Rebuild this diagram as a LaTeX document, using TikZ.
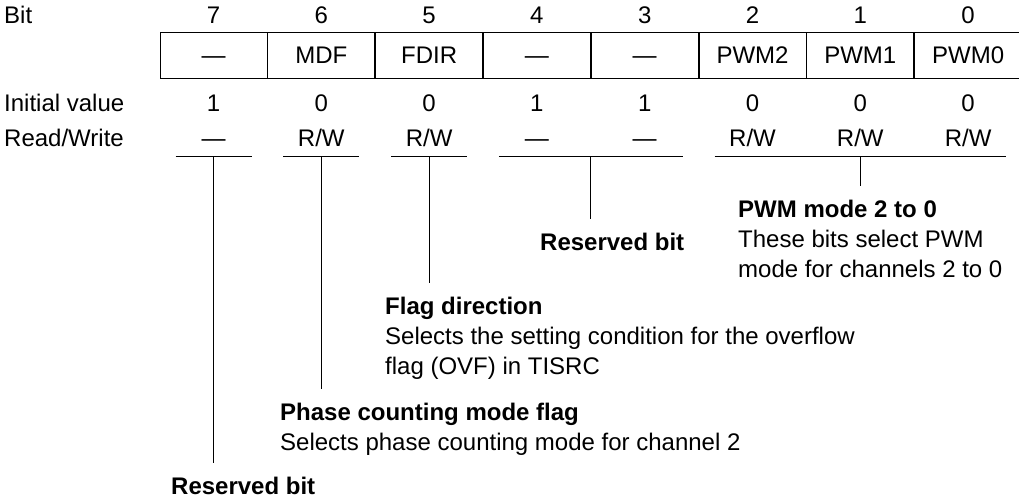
\documentclass[tikz,border=0pt]{standalone}
\usepackage{fontspec}
\setmainfont{Liberation Sans}
\usetikzlibrary{positioning}
\tikzset{
  cell/.style={
    rectangle,
    draw,
    line width=0.8pt,
    minimum width=107pt,
    minimum height=46pt,
    inner sep=0pt,
    text height=17.2pt,
    text depth=0pt,
    font=\fontsize{24}{30}\selectfont
  },
  val/.style={
    inner sep=0pt,
    text height=17.2pt,
    text depth=0pt,
    font=\fontsize{24}{30}\selectfont
  },
  rowlabel/.style={
    anchor=base west,
    inner sep=0pt,
    font=\fontsize{24}{30}\selectfont
  },
  desc/.style={
    anchor=north west,
    align=left,
    inner sep=0pt,
    font=\fontsize{24}{30}\selectfont
  },
  uline/.style={line width=0.8pt},
  leader/.style={line width=0.8pt, shorten >=14pt}
}

\begin{document}
\begin{tikzpicture}[x=1pt, y=-1pt]
  \useasboundingbox (0,0) rectangle (1019,500);

  % register cells
  \node[cell] at (213.5,55) (c7) {—};
  \node[cell, right=0pt of c7] (c6) {MDF};
  \node[cell, right=0pt of c6] (c5) {FDIR};
  \node[cell, right=0pt of c5] (c4) {—};
  \node[cell, right=0pt of c4] (c3) {—};
  \node[cell, right=0pt of c3] (c2) {PWM2};
  \node[cell, right=0pt of c2] (c1) {PWM1};
  \node[cell, right=0pt of c1] (c0) {PWM0};

  % bit numbers
  \node[val, above=8pt of c7] (b7) {7};
  \node[val, above=8pt of c6] (b6) {6};
  \node[val, above=8pt of c5] (b5) {5};
  \node[val, above=8pt of c4] (b4) {4};
  \node[val, above=8pt of c3] (b3) {3};
  \node[val, above=8pt of c2] (b2) {2};
  \node[val, above=8pt of c1] (b1) {1};
  \node[val, above=8pt of c0] (b0) {0};

  % initial values
  \node[val, below=15.4pt of c7] (i7) {1};
  \node[val, below=15.4pt of c6] (i6) {0};
  \node[val, below=15.4pt of c5] (i5) {0};
  \node[val, below=15.4pt of c4] (i4) {1};
  \node[val, below=15.4pt of c3] (i3) {1};
  \node[val, below=15.4pt of c2] (i2) {0};
  \node[val, below=15.4pt of c1] (i1) {0};
  \node[val, below=15.4pt of c0] (i0) {0};

  % read/write
  \node[val, below=17.8pt of i7] (rw7) {—};
  \node[val, below=17.8pt of i6] (rw6) {R/W};
  \node[val, below=17.8pt of i5] (rw5) {R/W};
  \node[val, below=17.8pt of i4] (rw4) {—};
  \node[val, below=17.8pt of i3] (rw3) {—};
  \node[val, below=17.8pt of i2] (rw2) {R/W};
  \node[val, below=17.8pt of i1] (rw1) {R/W};
  \node[val, below=17.8pt of i0] (rw0) {R/W};

  % row labels
  \node[rowlabel] (lbit) at (4,0 |- b7.base) {Bit};
  \node[rowlabel] (linit) at (4,0 |- i7.base) {Initial value};
  \node[rowlabel] (lrw) at (4,0 |- rw7.base) {Read/Write};

  % underlines
  \coordinate (u7) at (rw7 |- 0,156);
  \coordinate (u6) at (rw6 |- 0,156);
  \coordinate (u5) at (rw5 |- 0,156);
  \coordinate (u4) at (rw4 |- 0,156);
  \coordinate (u3) at (rw3 |- 0,156);
  \coordinate (u2) at (rw2 |- 0,156);
  \coordinate (u1) at (rw1 |- 0,156);
  \coordinate (u0) at (rw0 |- 0,156);
  \draw[uline] ([xshift=-38pt]u7) -- ([xshift=38pt]u7);
  \draw[uline] ([xshift=-38pt]u6) -- ([xshift=38pt]u6);
  \draw[uline] ([xshift=-38pt]u5) -- ([xshift=38pt]u5);
  \draw[uline] ([xshift=-38pt]u4) -- ([xshift=38pt]u3);
  \draw[uline] ([xshift=-38pt]u2) -- ([xshift=38pt]u0);

  % descriptions
  \node[desc] (pwm) at (738,200)
        {\textbf{PWM mode 2 to 0}\\These bits select PWM\\mode for channels 2 to 0};
  \node[desc] (rsv43) at (540,233) {\textbf{Reserved bit}};
  \node[desc] (fdir) at (385,297)
        {\textbf{Flag direction}\\Selects the setting condition for the overflow\\flag (OVF) in TISRC};
  \node[desc] (mdf) at (280,403)
        {\textbf{Phase counting mode flag}\\Selects phase counting mode for channel 2};
  \node[desc] (rsv7) at (171,477) {\textbf{Reserved bit}};

  % leaders
  \draw[leader] (u1) -- (u1 |- pwm.north);
  \draw[leader] (c4.east |- u4) -- (c4.east |- rsv43.north);
  \draw[leader] (u5) -- (u5 |- fdir.north);
  \draw[leader] (u6) -- (u6 |- mdf.north);
  \draw[leader] (u7) -- (u7 |- rsv7.north);
\end{tikzpicture}
\end{document}
